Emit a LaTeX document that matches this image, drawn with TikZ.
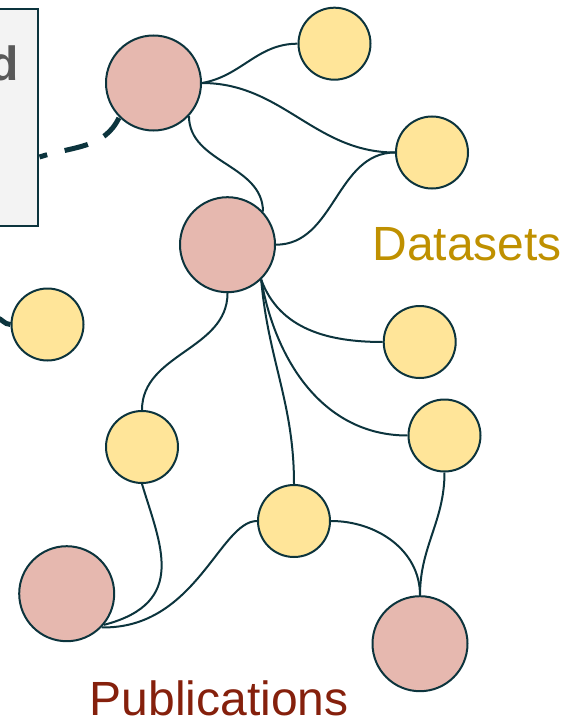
\documentclass[tikz,border=0pt]{standalone}
\usepackage{fontspec}
\setmainfont{Liberation Sans}
\definecolor{ink}{HTML}{0C343D}
\definecolor{pubfill}{HTML}{E6B8AF}
\definecolor{datafill}{HTML}{FFE599}
\definecolor{panelfill}{HTML}{F3F3F3}
\definecolor{paneltext}{HTML}{595959}
\definecolor{datalabel}{HTML}{BF9000}
\definecolor{publabel}{HTML}{85200C}
\begin{document}
\begin{tikzpicture}[x=1pt,y=1pt,
  pub/.style={circle, draw=ink, line width=2pt, fill=pubfill, minimum size=95pt, inner sep=0pt},
  data/.style={circle, draw=ink, line width=2pt, fill=datafill, minimum size=72pt, inner sep=0pt},
  panel/.style={rectangle, draw=ink, line width=2pt, fill=panelfill, inner sep=0pt},
  link/.style={draw=ink, line width=2pt},
  boldlink/.style={draw=ink, line width=5pt},
  dashlink/.style={boldlink, dash pattern=on 24pt off 18pt, dash phase=16pt},
  biglabel/.style={inner sep=0pt, font=\fontsize{48}{56}\selectfont}]
\useasboundingbox (0,0) rectangle (565,-722);

% side panel, mostly outside the frame
\node[panel, minimum width=120pt, minimum height=217pt, anchor=north east] (box) at (39,-8) {};
\node[biglabel, anchor=base east, text=paneltext, font=\fontsize{48}{56}\selectfont\bfseries] (boxtext) at (19,-80.7) {d};

% publications
\node[pub] (P1) at (153.5,-83) {};
\node[pub] (P2) at (227.5,-244.7) {};
\node[pub] (P3) at (66.7,-593.7) {};
\node[pub] (P4) at (420,-643.7) {};

% datasets
\node[data] (Y1) at (334.5,-43.7) {};
\node[data] (Y2) at (432,-152.5) {};
\node[data] (Y3) at (419.7,-342) {};
\node[data] (Y4) at (444.5,-435.5) {};
\node[data] (Y5) at (142,-447) {};
\node[data] (Y6) at (294,-521) {};
\node[data] (Y7) at (47.5,-324.5) {};

% labels
\node[biglabel, anchor=base west, text=datalabel] (dlabel) at (372.2,-260.7) {Datasets};
\node[biglabel, anchor=base west, text=publabel] (plabel) at (89.6,-715) {Publications};

% links from the panel
\coordinate (dstart) at (39.5,-157);
\coordinate (y7in) at (-4,-317.5);
\draw[dashlink] (dstart) to[out=18, in=-115] (P1.-135);
\draw[boldlink] (y7in) to[out=-10, in=180] (Y7.west);

% citation links
\draw[link] (P1.east) to[out=10, in=180] (Y1.west);
\draw[link] (P1.east) to[out=0, in=180] (Y2.west);
\draw[link] (P1.-43) to[out=-90, in=90] (P2.43);
\draw[link] (P2.east) to[out=0, in=180] (Y2.west);
\draw[link] (P2.-46) to[out=-70, in=180] (Y3.west);
\draw[link] (P2.-46) to[out=-80, in=180] (Y4.west);
\draw[link] (P2.-46) to[out=-85, in=90] (Y6.north);
\draw[link] (P2.south) to[out=-90, in=90] (Y5.north);
\draw[link] (Y5.south) .. controls +(18,-60) and +(85,22) .. (P3.-40);
\draw[link] (Y6.west) .. controls +(-37,0) and +(94,-2) .. (P3.-44);
\draw[link] (Y6.east) to[out=0, in=90] (P4.north);
\draw[link] (Y4.south) to[out=-90, in=90] (P4.north);
\end{tikzpicture}
\end{document}
